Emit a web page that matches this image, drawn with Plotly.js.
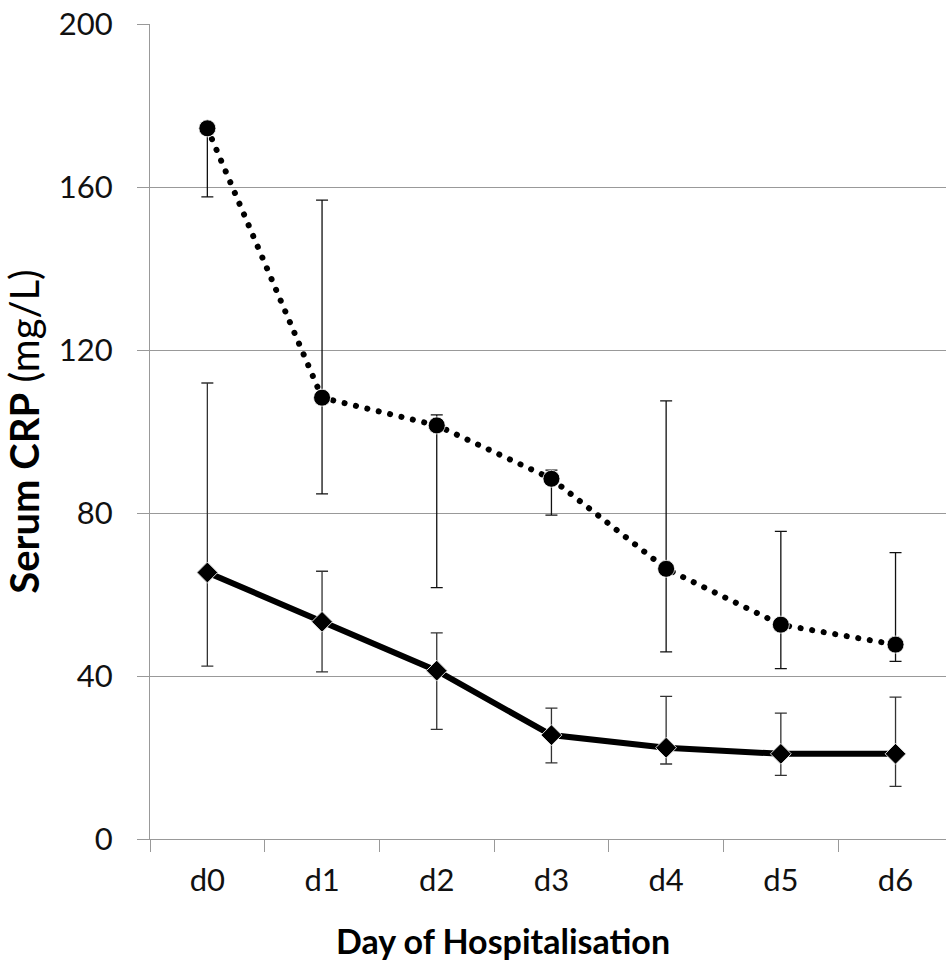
<!DOCTYPE html>
<html>
<head>
<meta charset="utf-8">
<script src="https://cdn.plot.ly/plotly-3.0.1.min.js"></script>
<style>
  html, body { margin: 0; padding: 0; background: #fff; }
  #chart { width: 946px; height: 963px; }
  .dotted-trace .js-line { stroke-linecap: round; }
</style>
</head>
<body>
<div id="chart"></div>
<script>
// ---- data ----
var days = ["d0", "d1", "d2", "d3", "d4", "d5", "d6"];

var dottedMean  = [174.4, 108.3, 101.5, 88.4, 66.3, 52.6, 47.7];
var dottedPlus  = [0.5, 48.5, 2.6, 2.1, 41.2, 22.9, 22.6];
var dottedMinus = [16.8, 23.6, 39.8, 8.9, 20.4, 10.8, 4.1];

var solidMean   = [65.4, 53.3, 41.3, 25.5, 22.4, 20.9, 20.9];
var solidPlus   = [46.5, 12.4, 9.3, 6.6, 12.6, 10.0, 13.9];
var solidMinus  = [23.0, 12.3, 14.4, 6.8, 4.0, 5.3, 8.0];

var yTicks = [0, 40, 80, 120, 160, 200];

var fontFam = "Lato, 'Open Sans', sans-serif";

var dotted = {
  x: days, y: dottedMean, type: "scatter", mode: "lines+markers",
  line: { color: "#000", width: 6, dash: "0.1px,11.6px" },
  marker: { symbol: "circle", size: 17, color: "#000", line: { color: "#fff", width: 0.8 } },
  error_y: { type: "data", symmetric: false, array: dottedPlus, arrayminus: dottedMinus,
             color: "#111", thickness: 1.3, width: 6 },
  hoverinfo: "skip"
};

var solid = {
  x: days, y: solidMean, type: "scatter", mode: "lines+markers",
  line: { color: "#000", width: 6 },
  marker: { symbol: "diamond", size: 16, color: "#000", line: { color: "#ddd", width: 1 } },
  error_y: { type: "data", symmetric: false, array: solidPlus, arrayminus: solidMinus,
             color: "#333", thickness: 1.3, width: 6 },
  hoverinfo: "skip"
};

var layout = {
  width: 946, height: 963,
  margin: { l: 150, r: 0, t: 24, b: 124 },
  paper_bgcolor: "#fff", plot_bgcolor: "#fff",
  showlegend: false,
  font: { family: fontFam, color: "#000" },
  xaxis: {
    type: "category",
    range: [-0.5, 6.44],
    tickson: "boundaries",
    ticks: "outside", ticklen: 12, tickcolor: "#999", tickwidth: 1,
    showline: true, linecolor: "#999", linewidth: 1,
    showgrid: false, zeroline: false,
    tickfont: { size: 31, family: fontFam, color: "#111" },
    ticklabelstandoff: 14,
    fixedrange: true
  },
  yaxis: {
    range: [0, 200],
    tickmode: "array", tickvals: yTicks, ticktext: yTicks.map(String),
    ticks: "outside", ticklen: 12, tickcolor: "#999", tickwidth: 1,
    showline: true, linecolor: "#999", linewidth: 1,
    showgrid: true, gridcolor: "#999", gridwidth: 1,
    zeroline: false,
    tickfont: { size: 31, family: fontFam, color: "#111" },
    ticklabelstandoff: 18,
    title: { text: "<b>Serum CRP</b> (mg/L)", font: { size: 40, family: fontFam, color: "#000" }, standoff: 8 },
    fixedrange: true
  },
  annotations: [{
    text: "<b>Day of Hospitalisation</b>",
    xref: "paper", yref: "paper",
    x: (503 - 150) / 796, y: -(940 - 839) / 815,
    xanchor: "center", yanchor: "middle",
    showarrow: false,
    font: { size: 34, family: fontFam, color: "#000" }
  }]
};

Plotly.newPlot("chart", [dotted, solid], layout, { displayModeBar: false, staticPlot: true }).then(function () {
  var traces = document.querySelectorAll(".scatterlayer .trace");
  if (traces.length) traces[0].classList.add("dotted-trace");
});
</script>
</body>
</html>
